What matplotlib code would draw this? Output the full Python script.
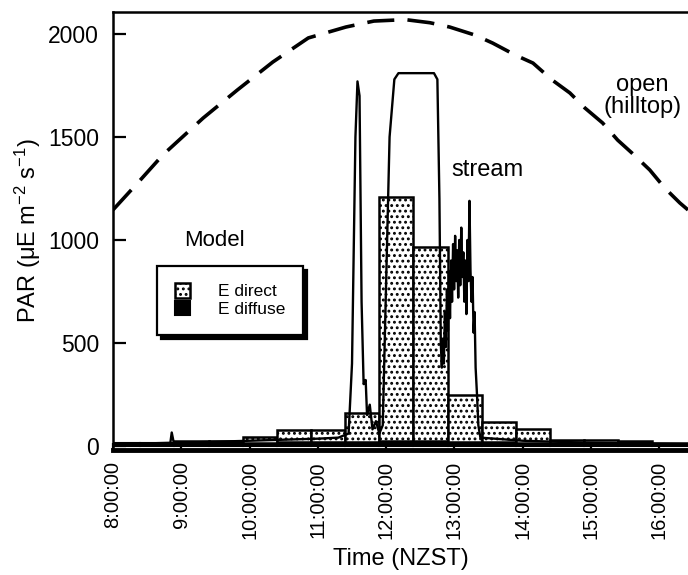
import matplotlib
matplotlib.use("Agg")
import matplotlib.pyplot as plt

plt.rcParams['font.family'] = ['Liberation Sans', 'DejaVu Sans']
plt.rcParams['mathtext.fontset'] = 'custom'
plt.rcParams['mathtext.rm'] = 'Liberation Sans'
plt.rcParams['mathtext.it'] = 'Liberation Sans:italic'
plt.rcParams['hatch.linewidth'] = 1.3

# open (hilltop) PAR, hours vs value
open_t = [8.00, 8.40, 8.73, 9.32, 9.82, 10.34, 10.86, 11.41, 11.82, 12.28,
          12.64, 12.93, 13.30, 13.56, 13.89, 14.15, 14.43, 14.69, 14.91,
          15.17, 15.39, 15.60, 15.86, 16.08, 16.30, 16.42]
open_v = [1146, 1291, 1413, 1592, 1728, 1864, 1981, 2034, 2063, 2070,
          2055, 2034, 1995, 1956, 1898, 1859, 1777, 1714, 1641,
          1568, 1485, 1422, 1340, 1252, 1180, 1146]

# stream PAR (measured)
stream_t = [8.00, 8.50, 8.84, 8.86, 8.89, 9.50, 10.00, 10.50, 11.00, 11.30,
            11.45, 11.50, 11.55, 11.58, 11.61, 11.64, 11.67, 11.70, 11.72,
            11.76, 11.80, 11.85, 11.90, 11.95, 12.05, 12.12, 12.18, 12.70,
            12.75, 12.78, 12.80, 12.815, 12.83, 12.845, 12.86, 12.875, 12.89,
            12.905, 12.92, 12.935, 12.95, 12.965, 12.98, 12.995, 13.01, 13.025,
            13.04, 13.055, 13.07, 13.085, 13.10, 13.115, 13.13, 13.145, 13.16,
            13.175, 13.19, 13.205, 13.22, 13.235, 13.25, 13.265, 13.28, 13.295,
            13.31, 13.33, 13.35, 13.38, 14.00, 15.00, 16.00, 16.42]
stream_v = [10, 12, 15, 65, 15, 20, 25, 30, 35, 40,
            60, 400, 1500, 1770, 1700, 700, 300, 320, 150,
            200, 80, 120, 60, 100, 1500, 1780, 1810, 1810,
            1780, 1200, 500, 380, 520, 400, 650, 480, 760,
            560, 850, 620, 900, 700, 980, 760, 1020, 800,
            950, 720, 1000, 780, 1060, 820, 940, 700, 900,
            640, 1000, 800, 1190, 850, 700, 820, 550, 650,
            380, 250, 100, 40, 25, 15, 10, 8]

# model, half-hour bars
bar_t = [8.15, 8.65, 9.15, 9.65, 10.15, 10.65, 11.15, 11.65, 12.15, 12.65,
         13.15, 13.65, 14.15, 14.65, 15.15, 15.65, 16.15]
e_diffuse = [12, 12, 14, 14, 16, 18, 18, 20, 22, 22,
             20, 18, 16, 14, 14, 12, 10]
e_direct = [3, 3, 11, 11, 29, 60, 60, 140, 1188, 943,
            225, 97, 64, 16, 16, 10, 2]

hours = [8, 9, 10, 11, 12, 13, 14, 15, 16]
hour_labels = ['%d:00:00' % h for h in hours]

fig = plt.figure(figsize=(6.88, 5.75), dpi=100)
ax = fig.add_axes([113 / 688, 125 / 575, 575 / 688, 438 / 575])

ax.bar(bar_t, e_diffuse, width=0.5, color='k', edgecolor='k', lw=1.5, zorder=2,
       label='E diffuse')
ax.bar(bar_t, e_direct, bottom=e_diffuse, width=0.5, facecolor='white',
       edgecolor='k', lw=1.8, hatch='...', zorder=2, label='E direct')

ax.plot(stream_t, stream_v, color='k', lw=1.7, zorder=3)
lw = 2.6
ax.plot(open_t, open_v, color='k', lw=lw, dashes=(19.5 / lw, 9.5 / lw), zorder=3)

ax.set_xlim(8, 16.42)
ax.set_ylim(-20, 2107)
ax.set_xticks(hours)
ax.set_xticklabels(hour_labels, rotation=90)
ax.set_yticks([0, 500, 1000, 1500, 2000])
ax.tick_params(axis='y', direction='in', length=9, width=1.6, labelsize=16.5, pad=10)
ax.tick_params(axis='x', direction='in', length=5, width=1.6, labelsize=14.5, pad=8)

ax.spines['right'].set_visible(False)
ax.spines['left'].set_linewidth(1.8)
ax.spines['top'].set_linewidth(1.8)
ax.spines['bottom'].set_linewidth(3.5)

ax.set_ylabel('PAR (μE m$^{-2}$ s$^{-1}$)', fontsize=17, labelpad=4)
ax.set_xlabel('Time (NZST)', fontsize=17, labelpad=6)

ax.text(13.48, 1340, 'stream', fontsize=17, ha='center', va='center')
ax.text(15.75, 1700, 'open\n(hilltop)', fontsize=17, ha='center', va='center',
        linespacing=1.0)
ax.text(9.49, 995, 'Model', fontsize=16, ha='center', va='center')

handles, labels = ax.get_legend_handles_labels()
leg = ax.legend(handles[::-1], labels[::-1], loc='center',
                bbox_to_anchor=(0.2035, 0.342), borderaxespad=0, fontsize=12.5,
                fancybox=False, edgecolor='k', framealpha=1, borderpad=1.0,
                handlelength=0.9, handleheight=0.9, handletextpad=1.6,
                labelspacing=0.1,
                shadow={'ox': 3, 'oy': -3, 'color': 'k', 'alpha': 1})
leg.get_frame().set_linewidth(1.6)

fig.savefig('out.png', dpi=100)
